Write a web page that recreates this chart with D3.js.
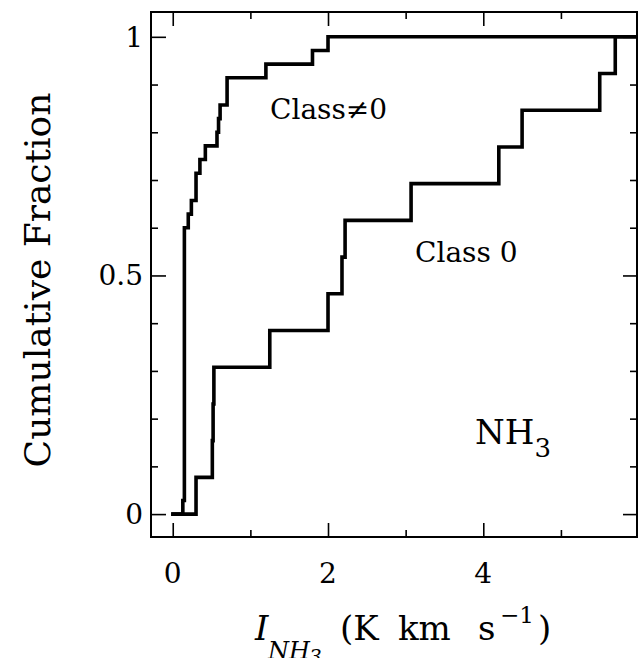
<!DOCTYPE html>
<html>
<head>
<meta charset="utf-8">
<script src="https://cdn.jsdelivr.net/npm/d3@7"></script>
<style>
body { margin: 0; background: #fff; }
text { font-family: "DejaVu Serif", serif; fill: #000; }
</style>
</head>
<body>
<svg id="chart" width="644" height="658"></svg>
<script>
// cumulative distributions of NH3 integrated intensity (K km/s)
var class0 = [0.30, 0.51, 0.52, 0.53, 1.25, 2.00, 2.18, 2.22, 3.07, 4.20, 4.50, 5.50, 5.70];
var classNot0 = [0.13, 0.15, 0.15, 0.15, 0.15, 0.15, 0.15, 0.15, 0.15, 0.15, 0.15,
    0.15, 0.15, 0.15, 0.15, 0.15, 0.15, 0.15, 0.15, 0.15, 0.15,
    0.20, 0.24, 0.30, 0.30, 0.35, 0.42, 0.57, 0.59, 0.61, 0.70, 0.70, 1.20, 1.80, 2.00];
var xMajor = [0, 2, 4];
var xMinor = [1, 3, 5];
var yMajor = [0, 0.5, 1];
var yMinor = [0.1, 0.2, 0.3, 0.4, 0.6, 0.7, 0.8, 0.9];
var yLabels = ["0", "0.5", "1"];

var svg = d3.select("#chart");
// plot box edges (note: "top" is a window property, so use other names)
var boxL = 151, boxR = 637, boxT = 12, boxB = 537;

var x = d3.scaleLinear().domain([-0.28, 5.98]).range([boxL, boxR]);
var y = d3.scaleLinear().domain([-0.048, 1.052]).range([boxB, boxT]);

// ticks on all four sides, pointing inwards
function ticks(axis, pos, vals, len) {
    var g = svg.append("g")
        .attr("transform", pos)
        .call(axis.tickValues(vals).tickSize(-len).tickFormat(""));
    g.select(".domain").remove();
    g.selectAll("line").attr("stroke", "#000").attr("stroke-width", 1.6);
}
ticks(d3.axisBottom(x), "translate(0," + boxB + ")", xMajor, 14);
ticks(d3.axisBottom(x), "translate(0," + boxB + ")", xMinor, 7);
ticks(d3.axisTop(x), "translate(0," + boxT + ")", xMajor, 14);
ticks(d3.axisTop(x), "translate(0," + boxT + ")", xMinor, 7);
ticks(d3.axisLeft(y), "translate(" + boxL + ",0)", yMajor, 15);
ticks(d3.axisLeft(y), "translate(" + boxL + ",0)", yMinor, 7);
ticks(d3.axisRight(y), "translate(" + boxR + ",0)", yMajor, 14);
ticks(d3.axisRight(y), "translate(" + boxR + ",0)", yMinor, 7);

svg.append("rect")
    .attr("x", boxL).attr("y", boxT)
    .attr("width", boxR - boxL).attr("height", boxB - boxT)
    .attr("fill", "none").attr("stroke", "#000").attr("stroke-width", 2);

// step curves
function cdf(vals) {
    var s = vals.slice().sort(d3.ascending);
    var pts = [[-0.02, 0]];
    s.forEach(function (v, i) { pts.push([v, (i + 1) / s.length]); });
    pts.push([x.domain()[1], 1]);
    return pts;
}
var line = d3.line()
    .x(function (d) { return x(d[0]); })
    .y(function (d) { return y(d[1]); })
    .curve(d3.curveStepAfter);

[classNot0, class0].forEach(function (vals) {
    svg.append("path")
        .attr("d", line(cdf(vals)))
        .attr("fill", "none")
        .attr("stroke", "#000")
        .attr("stroke-width", 3.6);
});

// tick labels
svg.selectAll(".xl").data(xMajor).enter().append("text")
    .attr("x", function (d) { return x(d); })
    .attr("y", 583)
    .attr("text-anchor", "middle")
    .style("font-size", "28px")
    .text(function (d) { return d; });
svg.selectAll(".yl").data(yMajor).enter().append("text")
    .attr("x", 143)
    .attr("y", function (d) { return y(d) + 10; })
    .attr("text-anchor", "end")
    .style("font-size", "28px")
    .text(function (d, i) { return yLabels[i]; });

// axis titles
svg.append("text")
    .attr("transform", "translate(50,280) rotate(-90)")
    .attr("text-anchor", "middle")
    .style("font-size", "36px")
    .text("Cumulative Fraction");

var xt = svg.append("g");
xt.append("text").attr("x", 255).attr("y", 640).style("font-size", "34px")
    .style("font-style", "italic").text("I");
xt.append("text").attr("x", 268).attr("y", 659).style("font-size", "24px")
    .style("font-style", "italic").text("NH");
xt.append("text").attr("x", 309).attr("y", 664).style("font-size", "20px")
    .style("font-style", "italic").text("3");
xt.append("text").attr("x", 340).attr("y", 640).style("font-size", "34px").text("(K");
xt.append("text").attr("x", 398).attr("y", 640).style("font-size", "34px").text("km");
xt.append("text").attr("x", 478).attr("y", 640).style("font-size", "34px").text("s");
xt.append("text").attr("x", 500).attr("y", 623).style("font-size", "23px").text("\u22121");
xt.append("text").attr("x", 538).attr("y", 640).style("font-size", "34px").text(")");

// annotations
svg.append("text").attr("x", 270).attr("y", 119).style("font-size", "28px").text("Class\u22600");
svg.append("text").attr("x", 415).attr("y", 262).style("font-size", "28px").text("Class 0");
var nh = svg.append("text").attr("x", 475).attr("y", 444).style("font-size", "34px");
nh.append("tspan").text("NH");
nh.append("tspan").attr("dy", 13).style("font-size", "26px").text("3");
</script>
</body>
</html>
